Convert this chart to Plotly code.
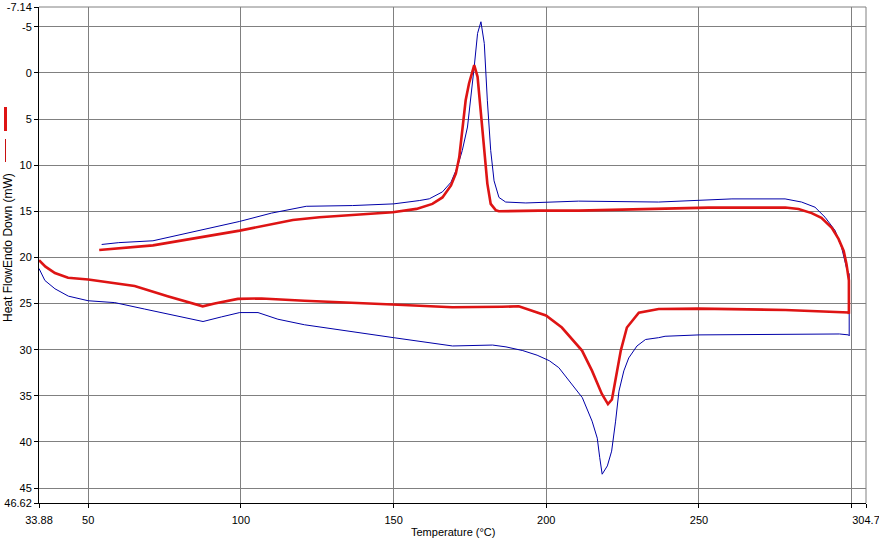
import plotly.graph_objects as go

# ---- data ----
blue_heat_x = [33.88, 35.8, 39.1, 43.5, 50.0, 58.7, 68.5, 78.3, 87.6, 93.6, 99.6, 105.6, 112.1, 120.8,
               135.0, 150.0, 169.3, 182.4, 186.8, 192.3, 197.0, 201.0, 204.1, 208.5, 211.8, 215.0,
               216.7, 217.5, 218.3, 220.0, 221.4, 222.7, 223.8, 225.4, 227.0, 229.7, 232.5, 236.8,
               238.9, 250.0, 280.0, 296.0, 299.0, 299.2]
blue_heat_y = [21.2, 22.5, 23.4, 24.2, 24.7, 24.9, 25.6, 26.3, 26.95, 26.45, 25.98, 25.98, 26.7, 27.3,
               28.0, 28.7, 29.6, 29.5, 29.7, 30.1, 30.6, 31.2, 31.95, 33.8, 35.2, 37.75,
               39.6, 41.7, 43.5, 42.6, 41.0, 37.75, 34.5, 32.3, 30.9, 29.6, 28.9, 28.7,
               28.55, 28.4, 28.35, 28.3, 28.4, 28.5]
blue_cool_x = [299.2, 298.4, 296.7, 294.6, 291.3, 288.0, 283.6, 278.2, 260.8, 249.9, 236.8, 210.6,
               197.6, 193.3, 186.7, 184.5, 182.9, 181.8, 180.7, 179.7, 178.6, 177.5, 176.4, 175.3,
               174.2, 172.5, 170.9, 168.8, 166.0, 161.7, 158.4, 150.0, 136.6, 121.4, 110.0, 99.6,
               71.2, 60.0, 54.4]
blue_cool_y = [21.8, 21.26, 18.9, 17.1, 15.65, 14.56, 14.0, 13.66, 13.66, 13.84, 14.0, 13.9,
               14.0, 14.1, 14.0, 13.5, 11.7, 8.4, 2.97, -3.19, -5.54, -4.28, -0.65, 2.97,
               5.87, 8.4, 10.2, 11.85, 12.9, 13.65, 13.84, 14.2, 14.38, 14.46, 15.2, 16.1,
               18.2, 18.4, 18.6]

red_heat_x = [33.88, 36.0, 39.1, 43.4, 50.0, 65.2, 76.0, 87.5, 91.4, 99.0, 106.8, 115.3, 120.8,
              149.6, 169.2, 185.5, 191.0, 199.9, 205.1, 211.7, 215.0, 218.2, 220.2, 221.5, 223.1,
              224.4, 226.4, 230.3, 236.8, 249.9, 278.3, 290.0, 298.9, 299.1]
red_heat_y = [20.3, 21.0, 21.7, 22.2, 22.4, 23.1, 24.2, 25.3, 25.0, 24.5, 24.45, 24.65, 24.7,
              25.1, 25.4, 25.35, 25.3, 26.3, 27.6, 30.1, 32.3, 34.8, 35.9, 35.4, 32.6,
              30.1, 27.6, 26.0, 25.6, 25.55, 25.7, 25.87, 25.98, 26.1]
red_cool_x = [299.1, 298.3, 297.4, 295.7, 293.5, 290.1, 286.9, 282.6, 278.3, 253.1, 236.8, 210.6,
              197.6, 184.5, 183.5, 181.8, 180.7, 179.7, 178.6, 177.5, 176.4, 174.7, 173.6, 172.5,
              171.5, 170.4, 168.8, 166.0, 162.7, 157.5, 149.7, 125.7, 117.0, 99.6, 71.2, 53.6]
red_cool_y = [22.5, 20.7, 19.3, 18.0, 16.8, 15.7, 15.2, 14.75, 14.6, 14.6, 14.74, 14.93,
              14.93, 15.0, 14.9, 14.2, 12.0, 8.4, 4.78, 0.43, -0.84, 1.15, 2.97, 6.56,
              9.16, 10.9, 12.2, 13.5, 14.2, 14.74, 15.1, 15.65, 15.94, 17.1, 18.7, 19.2]

x_tickvals = [33.88, 50, 100, 150, 200, 250, 300, 304.7]
x_ticktext = ["33.88", "50", "100", "150", "200", "250", "", "304.7"]
y_tickvals = [-7.14, -5, 0, 5, 10, 15, 20, 25, 30, 35, 40, 45, 46.62]
y_ticktext = ["-7.14", "-5", "0", "5", "10", "15", "20", "25", "30", "35", "40", "45", "46.62"]

x_title = "Temperature (°C)"
y_title = "Heat FlowEndo Down (mW)"

BLUE = "#0000A8"
RED = "#DE1414"
FONT = "Liberation Sans, Arial, sans-serif"

fig = go.Figure()
fig.add_trace(go.Scatter(x=blue_heat_x + blue_cool_x, y=blue_heat_y + blue_cool_y, mode="lines",
                         line=dict(color=BLUE, width=1), hoverinfo="skip"))
fig.add_trace(go.Scatter(x=red_heat_x + red_cool_x, y=red_heat_y + red_cool_y, mode="lines",
                         line=dict(color=RED, width=2.6), hoverinfo="skip"))

W, H = 879, 540
ml, mr, mt, mb = 39, 13, 7, 37
pw, ph = W - ml - mr, H - mt - mb

def px2paper_x(px):
    return (px - ml) / pw

def px2paper_y(py):
    return (H - mb - py) / ph

fig.update_layout(
    width=W, height=H,
    margin=dict(l=ml, r=mr, t=mt, b=mb, pad=0, autoexpand=False),
    paper_bgcolor="white", plot_bgcolor="white",
    showlegend=False,
    font=dict(family=FONT, size=11, color="black"),
    xaxis=dict(range=[33.88, 304.7], tickmode="array", tickvals=x_tickvals, ticktext=x_ticktext,
               showgrid=True, gridcolor="#808080", gridwidth=1, zeroline=False,
               showline=True, linecolor="black", linewidth=1, automargin=False,
               ticks="outside", ticklen=4, tickcolor="black", tickwidth=1,
               ticklabelstandoff=3, ticklabeloverflow="allow", tickfont=dict(size=11)),
    yaxis=dict(range=[46.62, -7.14], tickmode="array", tickvals=y_tickvals, ticktext=y_ticktext,
               showgrid=True, gridcolor="#808080", gridwidth=1, zeroline=False,
               showline=True, linecolor="black", linewidth=1, automargin=False,
               ticks="outside", ticklen=4, tickcolor="black", tickwidth=1,
               ticklabeloverflow="allow", tickfont=dict(size=11)),
    annotations=[
        dict(text=x_title, xref="paper", yref="paper", x=0.5, y=px2paper_y(532),
             xanchor="center", yanchor="middle", showarrow=False, font=dict(size=11)),
        dict(text=y_title, xref="paper", yref="paper", x=px2paper_x(8), y=px2paper_y(248),
             xanchor="center", yanchor="middle", textangle=-90, showarrow=False, font=dict(size=12)),
    ],
    shapes=[
        dict(type="line", xref="paper", yref="paper", x0=px2paper_x(5.5), x1=px2paper_x(5.5),
             y0=px2paper_y(107), y1=px2paper_y(131), line=dict(color=RED, width=3)),
        dict(type="line", xref="paper", yref="paper", x0=px2paper_x(5.5), x1=px2paper_x(5.5),
             y0=px2paper_y(139), y1=px2paper_y(162), line=dict(color="#C81010", width=1)),
        dict(type="line", xref="paper", yref="paper", x0=0, x1=1, y0=1, y1=1,
             line=dict(color="#808080", width=1)),
        dict(type="line", xref="paper", yref="paper", x0=1, x1=1, y0=0, y1=1,
             line=dict(color="#808080", width=1)),
    ],
)

fig.write_html("out.html")
